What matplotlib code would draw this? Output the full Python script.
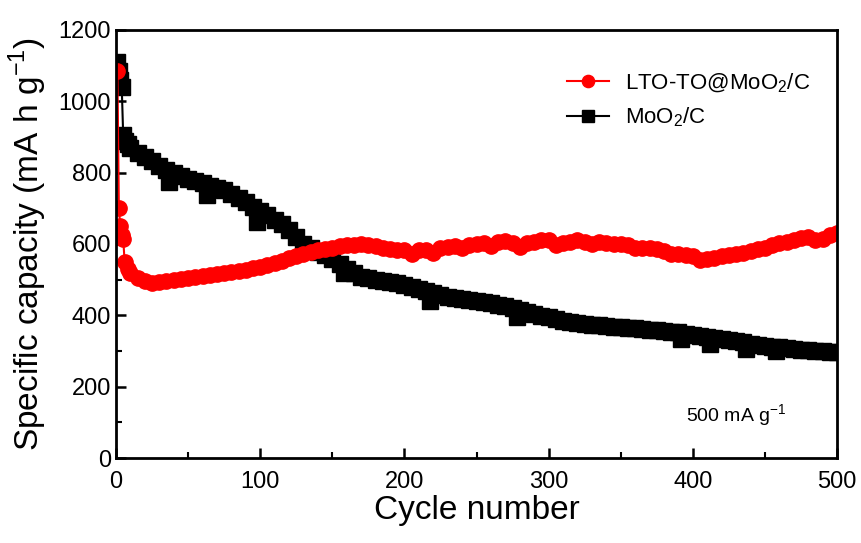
import numpy as np
import matplotlib
matplotlib.use("Agg")
import matplotlib.pyplot as plt
from matplotlib.ticker import MultipleLocator

plt.rcParams['font.family'] = ['Liberation Sans', 'DejaVu Sans']
plt.rcParams['mathtext.fontset'] = 'custom'
plt.rcParams['mathtext.rm'] = 'Liberation Sans'

# LTO-TO@MoO2/C (cycle, capacity)
red_cycles = [1, 2, 3, 4, 5, 6, 8, 10, 15, 20, 25, 30, 35, 40, 45, 50, 55, 60, 65, 70,
              75, 80, 85, 90, 95, 100, 105, 110, 115, 120, 125, 130, 135, 140, 145, 150,
              155, 160, 165, 170, 175, 180, 185, 190, 195, 200, 205, 210, 215, 220, 225,
              230, 235, 240, 245, 250, 255, 260, 265, 270, 275, 280, 285, 290, 295, 300,
              305, 310, 315, 320, 325, 330, 335, 340, 345, 350, 355, 360, 365, 370, 375,
              380, 385, 390, 395, 400, 405, 410, 415, 420, 425, 430, 435, 440, 445, 450,
              455, 460, 465, 470, 475, 480, 485, 490, 495, 500]
red_cap = [1085, 700, 650, 625, 615, 550, 530, 518, 505, 495, 490, 493, 497, 500, 502,
           505, 507, 510, 514, 517, 520, 522, 525, 528, 532, 536, 541, 547, 553, 560,
           566, 572, 578, 583, 587, 590, 594, 596, 598, 600, 598, 594, 590, 586, 583,
           582, 572, 582, 584, 576, 590, 592, 595, 588, 598, 600, 602, 594, 606, 608,
           604, 592, 602, 606, 612, 610, 598, 604, 607, 610, 607, 600, 606, 603, 600,
           601, 598, 590, 590, 588, 585, 580, 572, 572, 568, 565, 556, 558, 562, 567,
           570, 573, 576, 580, 585, 590, 596, 602, 606, 612, 618, 620, 610, 615, 625, 632]

# MoO2/C (cycle, capacity)
blk_cycles = [1, 2, 3, 4, 5, 6, 8, 10, 15, 20, 25, 30, 35, 37, 40, 45, 50, 55, 60, 63,
              65, 70, 75, 80, 85, 90, 95, 98, 100, 105, 110, 115, 120, 125, 130, 135, 140,
              145, 150, 155, 158, 160, 165, 170, 175, 180, 185, 190, 195, 200, 205, 210,
              215, 218, 220, 225, 230, 235, 240, 245, 250, 255, 260, 265, 270, 275, 278,
              280, 285, 290, 295, 300, 305, 310, 315, 320, 325, 330, 335, 340, 345, 350,
              355, 360, 365, 370, 375, 380, 385, 390, 392, 395, 400, 405, 410, 412, 415,
              420, 425, 430, 435, 437, 440, 445, 450, 455, 458, 460, 465, 470, 475, 480,
              485, 490, 495, 500]
blk_cap = [1110, 1085, 1060, 1040, 905, 890, 880, 870, 855, 843, 832, 820, 808, 775,
           798, 790, 782, 776, 770, 738, 762, 757, 750, 740, 730, 718, 705, 662, 693,
           680, 668, 655, 640, 620, 600, 588, 578, 568, 558, 545, 520, 530, 518, 508,
           505, 500, 497, 493, 490, 486, 480, 474, 468, 440, 462, 457, 452, 449, 446,
           443, 440, 437, 434, 430, 425, 420, 395, 415, 410, 404, 399, 394, 389, 385,
           381, 378, 376, 374, 372, 370, 368, 366, 365, 364, 362, 360, 358, 356, 354,
           352, 335, 349, 346, 343, 340, 320, 337, 334, 331, 328, 324, 305, 320, 317,
           314, 312, 300, 310, 308, 306, 304, 302, 300, 299, 298, 297]

fig = plt.figure(figsize=(8.61, 5.43), dpi=100)
ax = fig.add_axes([0.1347, 0.1565, 0.8375, 0.7883])

ax.plot(blk_cycles, blk_cap, color='black', marker='s', markersize=11, lw=1.5,
        label='MoO$_2$/C')
ax.plot(red_cycles, red_cap, color='red', marker='o', markersize=11, lw=1.5,
        label='LTO-TO@MoO$_2$/C')

ax.set_xlim(0, 500)
ax.set_ylim(0, 1200)
ax.xaxis.set_major_locator(MultipleLocator(100))
ax.xaxis.set_minor_locator(MultipleLocator(50))
ax.yaxis.set_major_locator(MultipleLocator(200))
ax.yaxis.set_minor_locator(MultipleLocator(100))
ax.tick_params(which='major', direction='in', length=7, width=1.8, labelsize=17)
ax.tick_params(which='minor', direction='in', length=4, width=1.5)
ax.tick_params(axis='x', pad=9)
for s in ax.spines.values():
    s.set_linewidth(2)

ax.set_xlabel('Cycle number', fontsize=24, labelpad=2)
ax.set_ylabel('Specific capacity (mA h g$^{-1}$)', fontsize=24, labelpad=7)

h, l = ax.get_legend_handles_labels()
ax.legend(h[::-1], l[::-1], loc='upper right', frameon=False, fontsize=16,
          handlelength=1.9, handletextpad=0.7, markerscale=0.8,
          bbox_to_anchor=(0.99, 0.95))
ax.text(0.93, 0.1, '500 mA g$^{-1}$', transform=ax.transAxes, ha='right',
        va='center', fontsize=14)

fig.savefig('out.png', dpi=100)
